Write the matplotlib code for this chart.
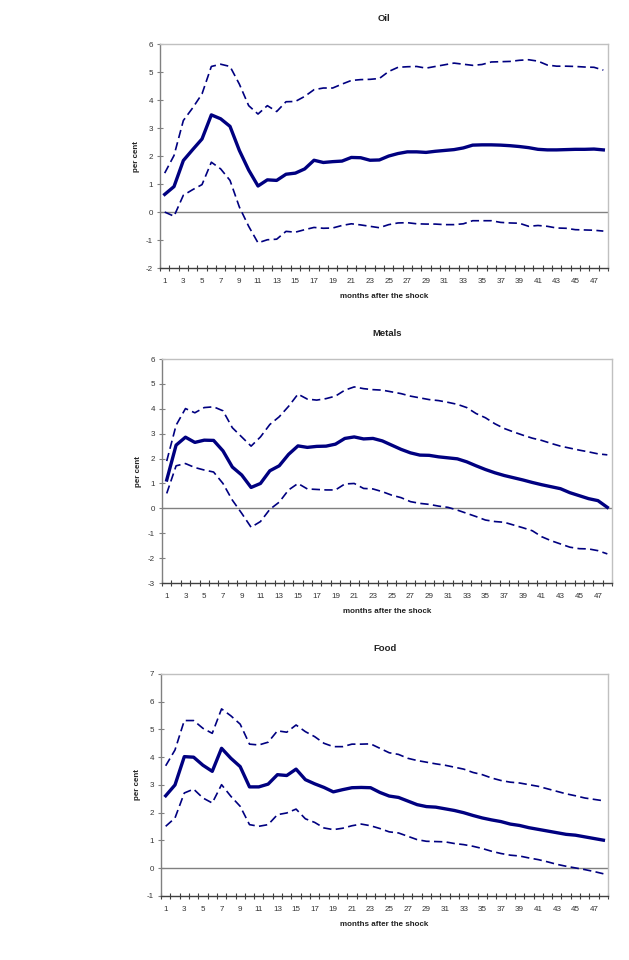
import matplotlib
matplotlib.use("Agg")
import matplotlib.pyplot as plt
import numpy as np

plt.rcParams['font.family'] = ['Liberation Sans', 'DejaVu Sans']
plt.rcParams['axes.unicode_minus'] = False

months = list(range(1, 49))
tick_labels = [str(m) for m in range(1, 48, 2)]

oil_mid = [0.63, 0.91, 1.84, 2.23, 2.61, 3.47, 3.33, 3.06, 2.2, 1.5, 0.93, 1.15, 1.13, 1.35, 1.39, 1.54,
           1.85, 1.77, 1.80, 1.82, 1.95, 1.94, 1.85, 1.86, 2.0, 2.09, 2.15, 2.15, 2.13, 2.17, 2.2, 2.23,
           2.29, 2.39, 2.40, 2.40, 2.39, 2.37, 2.34, 2.30, 2.24, 2.22, 2.22, 2.23, 2.24, 2.24, 2.25, 2.22]
oil_up = [1.39, 2.02, 3.27, 3.72, 4.22, 5.2, 5.28, 5.2, 4.57, 3.8, 3.5, 3.8, 3.59, 3.94, 3.95, 4.13,
          4.37, 4.43, 4.43, 4.57, 4.70, 4.73, 4.74, 4.77, 5.02, 5.17, 5.19, 5.20, 5.14, 5.2, 5.26, 5.32,
          5.28, 5.24, 5.27, 5.36, 5.37, 5.38, 5.42, 5.44, 5.39, 5.25, 5.21, 5.21, 5.20, 5.18, 5.17, 5.07]
oil_low = [0.0, -0.15, 0.6, 0.8, 0.98, 1.78, 1.54, 1.13, 0.18, -0.51, -1.10, -0.99, -0.97, -0.69, -0.72, -0.63,
           -0.55, -0.58, -0.57, -0.48, -0.42, -0.46, -0.51, -0.56, -0.45, -0.39, -0.38, -0.42, -0.43, -0.43, -0.45, -0.45,
           -0.42, -0.31, -0.31, -0.31, -0.37, -0.39, -0.40, -0.51, -0.48, -0.51, -0.57, -0.58, -0.63, -0.64, -0.65, -0.68]

metals_mid = [1.14, 2.54, 2.86, 2.65, 2.74, 2.73, 2.31, 1.66, 1.34, 0.84, 1.0, 1.51, 1.71, 2.17, 2.51, 2.45,
              2.49, 2.50, 2.58, 2.81, 2.87, 2.79, 2.81, 2.71, 2.54, 2.37, 2.23, 2.14, 2.13, 2.07, 2.03, 1.99,
              1.87, 1.71, 1.56, 1.43, 1.32, 1.23, 1.14, 1.04, 0.95, 0.87, 0.79, 0.63, 0.51, 0.39, 0.31, 0.04]
metals_up = [1.90, 3.34, 4.01, 3.84, 4.05, 4.08, 3.92, 3.24, 2.87, 2.5, 2.87, 3.37, 3.68, 4.10, 4.59, 4.39,
             4.35, 4.41, 4.51, 4.75, 4.88, 4.81, 4.77, 4.75, 4.68, 4.61, 4.51, 4.44, 4.37, 4.33, 4.26, 4.18,
             4.05, 3.81, 3.64, 3.40, 3.21, 3.07, 2.94, 2.82, 2.73, 2.61, 2.5, 2.42, 2.34, 2.27, 2.19, 2.15]
metals_low = [0.6, 1.71, 1.80, 1.64, 1.54, 1.46, 1.0, 0.33, -0.2, -0.76, -0.53, -0.04, 0.25, 0.74, 1.0, 0.78,
              0.76, 0.74, 0.74, 0.98, 1.0, 0.8, 0.78, 0.67, 0.53, 0.43, 0.27, 0.2, 0.16, 0.09, 0.04, -0.07,
              -0.2, -0.33, -0.47, -0.53, -0.56, -0.67, -0.78, -0.90, -1.14, -1.30, -1.43, -1.56, -1.62, -1.63, -1.70, -1.83]

food_mid = [2.61, 3.0, 4.02, 4.0, 3.71, 3.49, 4.32, 3.96, 3.66, 2.93, 2.93, 3.03, 3.37, 3.34, 3.57, 3.19,
            3.04, 2.91, 2.75, 2.83, 2.90, 2.91, 2.90, 2.73, 2.60, 2.55, 2.42, 2.29, 2.22, 2.20, 2.14, 2.08,
            2.0, 1.90, 1.81, 1.74, 1.68, 1.59, 1.54, 1.46, 1.40, 1.34, 1.28, 1.22, 1.19, 1.13, 1.07, 1.01]
food_up = [3.69, 4.26, 5.32, 5.32, 5.04, 4.86, 5.74, 5.49, 5.19, 4.47, 4.44, 4.54, 4.95, 4.90, 5.16, 4.92,
           4.74, 4.50, 4.38, 4.38, 4.47, 4.47, 4.48, 4.32, 4.16, 4.10, 3.96, 3.88, 3.82, 3.76, 3.71, 3.64,
           3.57, 3.45, 3.37, 3.25, 3.16, 3.10, 3.07, 3.01, 2.95, 2.86, 2.77, 2.68, 2.61, 2.53, 2.48, 2.43]
food_low = [1.51, 1.81, 2.71, 2.85, 2.53, 2.35, 3.01, 2.59, 2.23, 1.57, 1.51, 1.57, 1.93, 1.99, 2.13, 1.78,
            1.65, 1.45, 1.39, 1.44, 1.53, 1.59, 1.53, 1.43, 1.31, 1.27, 1.15, 1.03, 0.97, 0.96, 0.95, 0.89,
            0.85, 0.79, 0.71, 0.61, 0.53, 0.47, 0.44, 0.37, 0.31, 0.23, 0.14, 0.07, 0.01, -0.05, -0.12, -0.20]

panels = [
    ("Oil", oil_mid, oil_up, oil_low, (-2, 6), [0.2544, 0.7208, 0.7122, 0.2333]),
    ("Metals", metals_mid, metals_up, metals_low, (-3, 6), [0.2576, 0.3927, 0.7154, 0.2333]),
    ("Food", food_mid, food_up, food_low, (-1, 7), [0.2560, 0.0667, 0.7107, 0.2313]),
]

navy = "#000080"
dash = (0, (5, 2.6))
fig = plt.figure(figsize=(6.29, 9.6), dpi=100)

for title, mid, up, low, ylim, pos in panels:
    ax = fig.add_axes(pos)
    ax.axhline(0, color="#808080", lw=1.0, zorder=1)
    ax.plot(months, up, color=navy, lw=1.2, ls=dash, zorder=2)
    ax.plot(months, low, color=navy, lw=1.2, ls=dash, zorder=2)
    ax.plot(months, mid, color=navy, lw=2.4, zorder=3)
    ax.set_xlim(0.5, 48.5)
    ax.set_ylim(*ylim)
    ax.set_yticks(range(ylim[0], ylim[1] + 1))
    ax.set_xticks(range(1, 48, 2), tick_labels)
    ax.set_xticks(np.arange(0.5, 49, 1.0), minor=True)
    ax.tick_params(axis='x', which='major', length=0, pad=7, labelsize=5.8, colors="#333333")
    ax.tick_params(axis='x', which='minor', length=4, direction='inout', color="#404040", width=0.8)
    ax.tick_params(axis='y', length=4, direction='inout', color="#808080", width=0.8,
                   labelsize=5.8, labelcolor="#333333", pad=3)
    for s in ("top", "right"):
        ax.spines[s].set_color("#c0c0c0")
        ax.spines[s].set_linewidth(1.0)
    ax.spines["left"].set_color("#808080")
    ax.spines["left"].set_linewidth(1.0)
    ax.spines["bottom"].set_color("#404040")
    ax.spines["bottom"].set_linewidth(1.0)
    ax.set_title(title, fontsize=6.8, fontweight="bold", y=1.105, pad=0, color="#222222")
    ax.set_ylabel("per cent", fontsize=5.8, fontweight="bold", color="#222222")
    ax.yaxis.set_label_coords(-0.045, 0.5)
    ax.set_xlabel("months after the shock", fontsize=5.8, fontweight="bold", color="#222222")
    ax.xaxis.set_label_coords(0.5, -0.112)

fig.savefig("out.png", dpi=100)
